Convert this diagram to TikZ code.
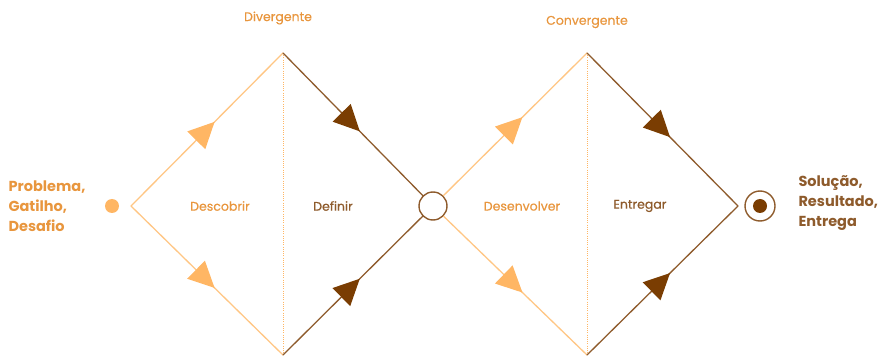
\documentclass[tikz,border=0pt]{standalone}
\usepackage{fontspec}
\setmainfont{Poppins}
\newfontfamily\phasefont[FakeBold=0.5]{Poppins}
\usetikzlibrary{arrows.meta,decorations.markings}

\definecolor{lighttone}{HTML}{FFC684}
\definecolor{lighttip}{HTML}{FFB664}
\definecolor{orangetext}{HTML}{E8963E}
\definecolor{browntone}{HTML}{8E5B2C}
\definecolor{browntip}{HTML}{7A3D02}

\tikzset{
  diverge/.style={draw=lighttone, line width=1.3pt, line cap=round, postaction={decorate},
    decoration={markings, mark=at position 0.55 with {\arrow{Triangle[length=26pt,width=25pt,color=lighttip]}}}},
  converge/.style={draw=browntone, line width=1.3pt, line cap=round, postaction={decorate},
    decoration={markings, mark=at position 0.55 with {\arrow{Triangle[length=26pt,width=25pt,color=browntip]}}}},
  dotline/.style={draw=lighttip, line width=1pt, dash pattern=on 1pt off 1.2pt},
  phase/.style={font=\phasefont\fontsize{12.5}{14}\selectfont},
  sidelabel/.style={font=\fontsize{14.5}{20}\selectfont\bfseries, align=left, anchor=west},
}

\begin{document}
\begin{tikzpicture}[x=1pt,y=-1pt]
\useasboundingbox (0,0) rectangle (879,358);
% diamond corners
\coordinate (s) at (131,206);
\coordinate (dtop) at (283,53);
\coordinate (dbot) at (283,355);
\coordinate (ctop) at (587,53);
\coordinate (cbot) at (587,355);
\coordinate (e) at (738,206);
\node[circle, fill=lighttip, minimum size=14pt, inner sep=0pt] (startdot) at (112,206) {};
\node[circle, draw=browntone, line width=1.4pt, minimum size=28pt, inner sep=0pt] (mid) at (433,206) {};
\node[circle, draw=browntone, line width=1.4pt, minimum size=30pt, inner sep=0pt] (goal) at (760,206) {};
\node[circle, fill=browntip, minimum size=14pt, inner sep=0pt] (goaldot) at (goal) {};

\draw[dotline] (dtop) -- (dbot);
\draw[dotline] (ctop) -- (cbot);
\draw[diverge] (s) -- (dtop);
\draw[diverge] (s) -- (dbot);
\draw[converge] (dtop) -- (mid);
\draw[converge] (dbot) -- (mid);
\draw[diverge] (mid) -- (ctop);
\draw[diverge] (mid) -- (cbot);
\draw[converge] (ctop) -- (e);
\draw[converge] (cbot) -- (e);

\node[phase, orangetext] (divg) at (278,18) {Divergente};
\node[phase, orangetext] (convg) at (587,22) {Convergente};
\node[phase, orangetext] (desc) at (220,206) {Descobrir};
\node[phase, browntone] (defn) at (333,206) {Definir};
\node[phase, orangetext] (desv) at (522,206) {Desenvolver};
\node[phase, browntone] (entg) at (640,206) {Entregar};
\node[sidelabel, orangetext] (prob) at (5,206) {Problema,\\Gatilho,\\Desafio};
\node[sidelabel, browntone] (sol) at (795,203) {Solução,\\Resultado,\\Entrega};
\end{tikzpicture}
\end{document}
